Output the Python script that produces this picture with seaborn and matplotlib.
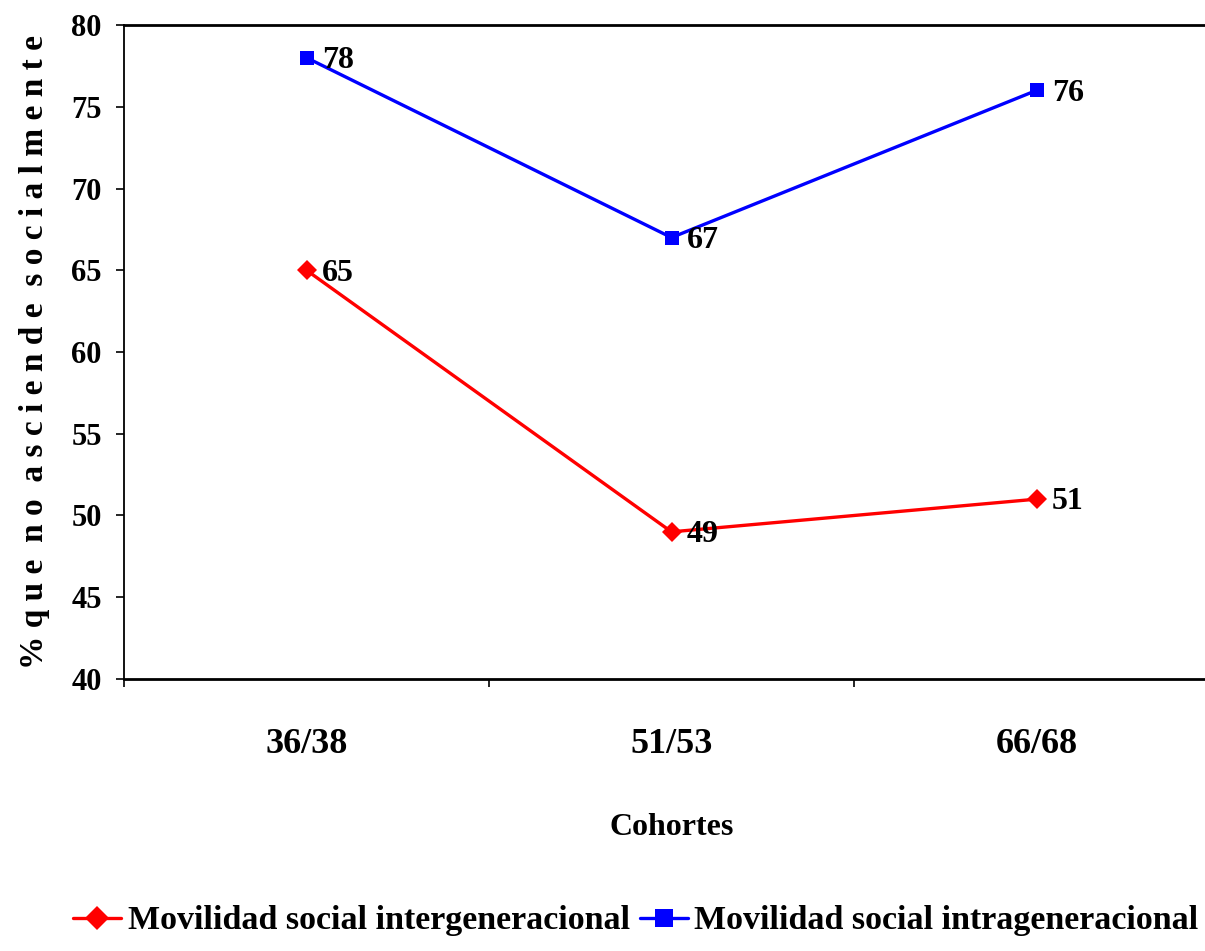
import matplotlib
matplotlib.use("Agg")
import matplotlib.pyplot as plt
import pandas as pd
import seaborn as sns
from matplotlib.ticker import FixedLocator, NullFormatter

# data
cohortes = ["36/38", "51/53", "66/68"]
intergeneracional = [65, 49, 51]
intrageneracional = [78, 67, 76]
series_names = ["Movilidad social intergeneracional", "Movilidad social intrageneracional"]
y_ticks = [40, 45, 50, 55, 60, 65, 70, 75, 80]

sns.set_theme(style="white")
plt.rcParams["font.family"] = ["Liberation Serif", "DejaVu Serif"]
plt.rcParams["font.weight"] = "bold"
plt.rcParams["text.color"] = "black"
plt.rcParams["axes.labelcolor"] = "black"
plt.rcParams["xtick.color"] = "black"
plt.rcParams["ytick.color"] = "black"

df = pd.DataFrame({
    "cohorte": cohortes * 2,
    "valor": intergeneracional + intrageneracional,
    "serie": [series_names[0]] * 3 + [series_names[1]] * 3,
})

fig = plt.figure(figsize=(12.05, 9.51), dpi=100)
W, H = 1205, 951
ax = fig.add_axes([124 / W, 1 - 679 / H, (1219 - 124) / W, (679 - 25) / H])

palette = {series_names[0]: "#FF0000", series_names[1]: "#0000FF"}
markers = {series_names[0]: "D", series_names[1]: "s"}
sizes = {series_names[0]: 10.5, series_names[1]: 10.5}

for name in series_names:
    sub = df[df["serie"] == name]
    sns.lineplot(data=sub, x="cohorte", y="valor", ax=ax, color=palette[name],
                 marker=markers[name], markersize=sizes[name], markeredgewidth=0,
                 linewidth=2.4, label=name, legend=False)
    for i, (c, v) in enumerate(zip(sub["cohorte"], sub["valor"])):
        ax.annotate(str(v), (i, v), xytext=(11, -2), textcoords="offset points",
                    ha="left", va="center", fontsize=23, fontweight="bold",
                    color="black")

ax.set_xlim(-0.5, 2.5)
ax.set_ylim(40, 80)
ax.set_yticks(y_ticks)
ax.tick_params(axis="y", direction="out", length=6, width=1.2, color="black",
               labelsize=22, pad=10, left=True)
ax.set_xticks(range(len(cohortes)))
ax.set_xticklabels(cohortes)
ax.xaxis.set_minor_locator(FixedLocator([-0.5, 0.5, 1.5]))
ax.xaxis.set_minor_formatter(NullFormatter())
ax.tick_params(axis="x", which="major", length=0, labelsize=26, pad=35)
ax.tick_params(axis="x", which="minor", direction="out", length=6, width=1.2,
               color="black", bottom=True)

for side in ["left", "bottom", "top"]:
    ax.spines[side].set_visible(True)
    ax.spines[side].set_color("black")
    ax.spines[side].set_linewidth(2)
ax.spines["left"].set_linewidth(1.3)
ax.spines["right"].set_visible(False)

ax.set_xlabel("Cohortes", fontsize=23, fontweight="bold", labelpad=38)
ax.set_ylabel("% q u e  n o  a s c i e n d e  s o c i a l m e n t e",
              fontsize=24, fontweight="bold")
ax.yaxis.set_label_coords(-(124 - 50) / 1095, 0.5)

handles, labels = ax.get_legend_handles_labels()
fig.legend(handles, labels, loc="center", bbox_to_anchor=(636 / W, 1 - 921 / H),
           ncol=2, frameon=False, fontsize=24.5, handlelength=1.4,
           handletextpad=0.2, columnspacing=0.3, markerscale=1.2)

fig.savefig("out.png", dpi=100)
